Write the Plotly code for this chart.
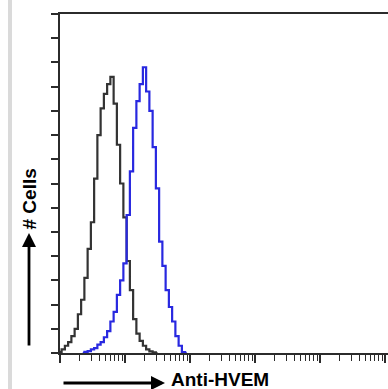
import numpy as np
import plotly.graph_objects as go

# histogram bin centres, in decades of fluorescence (log10 intensity)
black_log = [0.00, 0.05, 0.10, 0.15, 0.20, 0.25, 0.30, 0.35, 0.40, 0.45, 0.50, 0.55,
             0.60, 0.65, 0.70, 0.75, 0.80, 0.85, 0.90, 0.95, 1.00, 1.05, 1.10, 1.15,
             1.20, 1.25, 1.30, 1.35, 1.40, 1.45, 1.50]
black_counts = [0.5, 1.5, 3, 4.5, 7, 10, 16, 22, 31, 43, 54, 72,
                90, 101, 107, 111, 114, 103, 86, 70, 56, 38, 26, 14,
                8, 5, 3, 1.5, 0.7, 0.3, 0]

blue_log = [0.35, 0.40, 0.45, 0.50, 0.55, 0.60, 0.65, 0.70, 0.75, 0.80, 0.85, 0.90,
            0.95, 1.00, 1.05, 1.10, 1.15, 1.20, 1.25, 1.30, 1.35, 1.40, 1.45, 1.50,
            1.55, 1.60, 1.65, 1.70, 1.75, 1.80, 1.85, 1.90, 1.95]
blue_counts = [0, 0.5, 0.8, 1.5, 2, 3.5, 4.5, 6.5, 9, 13, 17, 24,
               30, 37, 57, 75, 93, 104, 111, 118, 108, 100, 85, 68,
               46, 36, 26, 19, 13, 7, 3, 0.4, 0]

x_title = "Anti-HVEM"
y_title = "# Cells"

fig = go.Figure()
fig.add_trace(go.Scatter(x=10 ** np.array(black_log), y=black_counts, mode="lines",
                         line=dict(color="#333333", width=2.2, shape="hvh"),
                         showlegend=False, hoverinfo="skip"))
fig.add_trace(go.Scatter(x=10 ** np.array(blue_log), y=blue_counts, mode="lines",
                         line=dict(color="#2828e0", width=2.2, shape="hvh"),
                         showlegend=False, hoverinfo="skip"))

W, H = 388, 389
L, T, B = 60, 14, 36
pw, ph = W - L, H - T - B

def px(x):
    return (x - L) / pw

def py(y):
    return (H - B - y) / ph

fig.update_layout(
    width=W, height=H,
    margin=dict(l=L, r=0, t=T, b=B),
    paper_bgcolor="white", plot_bgcolor="white",
    xaxis=dict(type="log", range=[0, 5.046], showgrid=False, zeroline=False,
               showline=True, linecolor="#2b2b2b", linewidth=2, mirror=True,
               ticks="outside", ticklen=8, tickwidth=1.5, tickcolor="#2b2b2b",
               dtick=1, showticklabels=False,
               minor=dict(ticks="outside", ticklen=6, tickwidth=1.3,
                          tickcolor="#2b2b2b", showgrid=False)),
    yaxis=dict(range=[0, 140], dtick=10, showgrid=False, zeroline=False,
               showline=True, linecolor="#2b2b2b", linewidth=2, mirror=False,
               ticks="outside", ticklen=7, tickwidth=1.5, tickcolor="#2b2b2b",
               showticklabels=False),
    shapes=[dict(type="rect", xref="paper", yref="paper",
                 x0=px(8), x1=px(12), y0=py(H), y1=py(0),
                 fillcolor="#dadada", line=dict(width=0), layer="below")],
    annotations=[
        dict(xref="paper", yref="paper", x=px(29), y=py(233), ax=0, ay=114,
             text="", showarrow=True, arrowhead=2, arrowsize=1, arrowwidth=2.8,
             arrowcolor="black"),
        dict(xref="paper", yref="paper", x=px(29), y=py(199.5), text="<b>" + y_title + "</b>",
             textangle=-90, showarrow=False, xanchor="center", yanchor="middle",
             font=dict(family="Liberation Sans, Arial", size=19, color="black")),
        dict(xref="paper", yref="paper", x=px(165), y=py(383), ax=-103, ay=0,
             text="", showarrow=True, arrowhead=2, arrowsize=1, arrowwidth=2.8,
             arrowcolor="black"),
        dict(xref="paper", yref="paper", x=px(169), y=py(380), text="<b>" + x_title + "</b>",
             showarrow=False, xanchor="left", yanchor="middle",
             font=dict(family="Liberation Sans, Arial", size=19, color="black")),
    ],
)

fig.write_html("out.html", config={"displayModeBar": False},
               post_script="document.body.style.margin='0';document.body.style.overflow='hidden';")
